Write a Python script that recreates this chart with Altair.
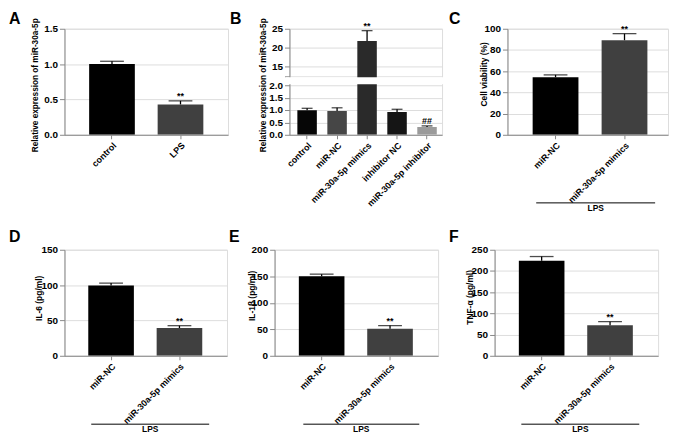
import altair as alt
import pandas as pd

FONT = "Liberation Sans"

# ---------------- data ----------------
A_cats = ["control", "LPS"]
A_vals = [1.00, 0.43]
A_errs = [0.04, 0.05]
A_sig = ["", "**"]
A_cols = ["#000000", "#404040"]
A_ticks = [0, 0.5, 1.0, 1.5]

B_cats = ["control", "miR-NC", "miR-30a-5p mimics", "inhibitor NC", "miR-30a-5p inhibitor"]
B_vals = [0.99, 0.96, 21.8, 0.92, 0.31]
B_errs = [0.08, 0.13, 2.7, 0.11, 0.05]
B_sig = ["", "", "**", "", "##"]
B_cols = ["#060606", "#464646", "#2a2a2a", "#151515", "#9b9b9b"]
B_ticks = [0, 0.5, 1.0, 1.5, 2.0, 12.5, 15, 20, 25]

LPS_cats = ["miR-NC", "miR-30a-5p mimics"]
LPS_cols = ["#000000", "#404040"]
LPS_sig = ["", "**"]

C_vals = [54.3, 89.2]
C_errs = [2.2, 6.2]
C_ticks = [0, 20, 40, 60, 80, 100]

D_vals = [99.6, 39.3]
D_errs = [3.2, 3.3]
D_ticks = [0, 50, 100, 150]

E_vals = [150.0, 51.0]
E_errs = [4.0, 6.0]
E_ticks = [0, 50, 100, 150, 200]

F_vals = [224.0, 72.0]
F_errs = [10.0, 8.5]
F_ticks = [0, 50, 100, 150, 200, 250]


def panel(cats, vals, errs, sigs, cols, ticks, ydom, ytitle, tx, ty,
          letter, lx, ly, W, H, box, band, cap,
          yrange=None, labelexpr=None, lps=None, gap=None, tsize=8.5):
    df = pd.DataFrame({
        "cat": cats, "val": vals,
        "up": [v + e for v, e in zip(vals, errs)],
        "sig": sigs, "col": cols,
    })
    L, T, R, Bt = box
    pi, po, al = band
    xenc = alt.X("cat:N", sort=cats,
                 scale=alt.Scale(paddingInner=pi, paddingOuter=po, align=al),
                 axis=alt.Axis(title=None, labelAngle=-45, labelAlign="right",
                               labelBaseline="top", tickSize=4, labelPadding=2,
                               labelFontSize=9, labelFontWeight="bold"))
    sc = dict(domain=ydom, nice=False, zero=False)
    if yrange is not None:
        sc["range"] = yrange
    yscale = alt.Scale(**sc)
    ax = dict(title=None, values=ticks, labelFontWeight="bold")
    if labelexpr is not None:
        ax["labelExpr"] = labelexpr
    yaxis = alt.Axis(**ax)

    def Y(f):
        return alt.Y(f, type="quantitative", scale=yscale, axis=yaxis)

    base = alt.Chart(df)
    layers = []
    # invisible frame that fixes this panel's extent in the grid
    frame = alt.Chart(pd.DataFrame({"a": [0]})).mark_rect(opacity=0).encode(
        x=alt.value(-L), x2=alt.value(W + R), y=alt.value(-T), y2=alt.value(H + Bt))
    layers.append(frame)
    layers.append(base.mark_bar(clip=True).encode(
        x=xenc, y=Y("val"), color=alt.Color("col:N", scale=None)))
    layers.append(base.mark_rule(color="#000000", strokeWidth=1.3).encode(
        x=xenc, y=Y("val"), y2=alt.Y2("up")))
    layers.append(base.mark_tick(orient="horizontal", size=cap, thickness=1.3,
                                 color="#000000").encode(x=xenc, y=Y("up")))
    if gap is not None:
        gdf = pd.DataFrame({"lo": [gap[0]], "hi": [gap[1]]})
        layers.append(alt.Chart(gdf).mark_rect(color="white").encode(
            x=alt.value(-4), x2=alt.value(W + 2), y=Y("hi"), y2=alt.Y2("lo")))
    layers.append(base.mark_text(fontSize=9, fontWeight="bold", font=FONT,
                                 baseline="alphabetic", dy=-2, color="#000000").encode(
        x=xenc, y=Y("up"), text="sig:N"))
    ann = pd.DataFrame({"t": [letter], "yt": [ytitle]})
    layers.append(alt.Chart(ann).mark_text(
        fontSize=16, fontWeight="bold", font=FONT, align="left",
        baseline="alphabetic", color="#000000").encode(
        x=alt.value(lx), y=alt.value(ly), text="t:N"))
    layers.append(alt.Chart(ann).mark_text(
        fontSize=tsize, fontWeight="bold", font=FONT, align="center", angle=270,
        baseline="middle", color="#000000").encode(
        x=alt.value(tx), y=alt.value(ty), text="yt:N"))
    if lps is not None:
        x1, x2, yl, xt, yt = lps
        ldf = pd.DataFrame({"t": ["LPS"]})
        layers.append(alt.Chart(ldf).mark_rule(color="#000000", strokeWidth=1).encode(
            x=alt.value(x1), x2=alt.value(x2), y=alt.value(yl)))
        layers.append(alt.Chart(ldf).mark_text(
            fontSize=8.5, fontWeight="bold", font=FONT, align="center",
            baseline="alphabetic", color="#000000").encode(
            x=alt.value(xt), y=alt.value(yt), text="t:N"))
    return alt.layer(*layers).properties(width=W, height=H)


std_band = (0.333, 0.36, 0.5)
ROW1 = (18, 93)   # space above / below plot, top row
ROW2 = (21, 80)   # space above / below plot, bottom row

A = panel(A_cats, A_vals, A_errs, A_sig, A_cols, A_ticks, [0, 1.5],
          "Relative expression of miR-30a-5p", -28.5, 57,
          "A", -56, -5, 165, 107, (55, ROW1[0], 0, ROW1[1]), std_band, 24,
          labelexpr="format(datum.value, '.1f')", tsize=8.3)

B = panel(B_cats, B_vals, B_errs, B_sig, B_cols, B_ticks, [0, 2, 12.5, 25],
          "Relative expression of miR-30a-5p", -25.5, 57,
          "B", -60, -5, 154, 107, (60, ROW1[0], 5, ROW1[1]), (0.35, 0.22, 0.6), 11,
          yrange=[107, 57, 48, 0],
          labelexpr="datum.value == 12.5 ? '' : (datum.value <= 2 ? format(datum.value, '.1f') : format(datum.value, 'd'))",
          gap=(3.2, 11.3), tsize=8.3)

C = panel(LPS_cats, C_vals, C_errs, LPS_sig, LPS_cols, C_ticks, [0, 100],
          "Cell viability (%)", -24, 46,
          "C", -59, -5, 162, 107, (59, ROW1[0], 0, ROW1[1]), (0.336, 0.332, 0.55), 24,
          lps=(29, 149, 175.7, 89, 184))

D = panel(LPS_cats, D_vals, D_errs, LPS_sig, LPS_cols, D_ticks, [0, 150],
          "IL-6 (pg/ml)", -26, 49,
          "D", -56, -8, 164, 107, (55, ROW2[0], 0, ROW2[1]), (0.333, 0.355, 0.49), 24,
          lps=(27, 146, 176, 86.5, 184))

E = panel(LPS_cats, E_vals, E_errs, LPS_sig, LPS_cols, E_ticks, [0, 200],
          "IL-1β (pg/ml)", -23, 46.5,
          "E", -46, -8, 165, 107, (46, ROW2[0], 9, ROW2[1]), (0.333, 0.362, 0.49), 24,
          lps=(29, 146, 176, 87.5, 184))

F = panel(LPS_cats, F_vals, F_errs, LPS_sig, LPS_cols, F_ticks, [0, 250],
          "TNF-α (pg/ml)", -24.5, 48,
          "F", -46, -7.5, 165, 107, (46, ROW2[0], 0, ROW2[1]), (0.333, 0.362, 0.49), 24,
          lps=(27, 146, 176, 86.5, 184))

chart = alt.vconcat(
    alt.hconcat(A, B, C, spacing=0),
    alt.hconcat(D, E, F, spacing=0),
    spacing=0,
).properties(padding=0).configure_view(stroke=None).configure_axis(
    domainColor="#000000", domainWidth=1.3, tickColor="#000000", tickWidth=1.3,
    labelColor="#000000", titleColor="#000000", labelFont=FONT, titleFont=FONT,
    labelFontWeight="bold", titleFontWeight="bold", labelFontSize=8.5,
    titleFontSize=8.5, grid=False, tickSize=3.5, labelPadding=1.5,
).configure(background="white")

chart.save("out.html", embed_options={"renderer": "svg", "actions": False})
